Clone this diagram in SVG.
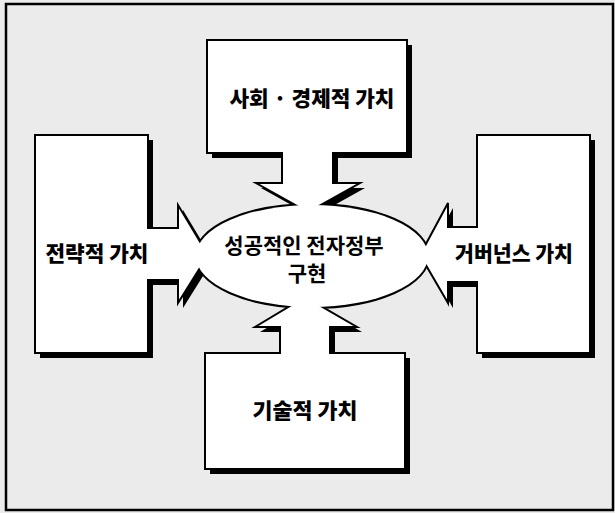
<svg xmlns="http://www.w3.org/2000/svg" width="615" height="513" viewBox="0 0 615 513">
  <defs>
    <style>
      .bg { fill: #ebebeb; }
      .frame { fill: none; stroke: #000; stroke-width: 2.5; }
      .shape { fill: #fff; stroke: #000; stroke-width: 2; stroke-linejoin: miter; }
      .shadow { fill: #000; }
      .hub { fill: #fff; stroke: #000; stroke-width: 4; }
      .hubfill { fill: #fff; stroke: none; }
      .label { font-family: "Noto Sans CJK KR", "Noto Sans", sans-serif; font-weight: 900; font-size: 21px; fill: #000; text-anchor: middle; }
      .hubtext { font-family: "Noto Sans CJK KR", "Noto Sans", sans-serif; font-weight: 700; font-size: 21px; fill: #000; text-anchor: middle; }
    </style>
  </defs>

  <rect class="bg" x="0" y="0" width="615" height="513"/>
  <rect class="frame" x="6" y="4" width="607" height="506"/>

  <g id="hub-outline">
    <ellipse class="hub" cx="312" cy="256" rx="116" ry="51"/>
  </g>

  <g id="node-social">
    <polygon class="shadow" transform="translate(5,5)" points="207,40 407,40 407,153 333,153 333,183 360,183 308,212 256,183 282,183 282,153 207,153"/>
    <polygon class="shape" points="207,40 407,40 407,153 333,153 333,183 360,183 308,212 256,183 282,183 282,153 207,153"/>
    <text class="label" x="312" y="106" textLength="165" lengthAdjust="spacingAndGlyphs">사회 · 경제적 가치</text>
  </g>

  <g id="node-strategic">
    <polygon class="shadow" transform="translate(5,5)" points="35,135 148,135 148,228 178,228 178,205 208,255 178,303 178,280 148,280 148,353 35,353"/>
    <polygon class="shape" points="35,135 148,135 148,228 178,228 178,205 208,255 178,303 178,280 148,280 148,353 35,353"/>
    <text class="label" x="97" y="261" textLength="103" lengthAdjust="spacingAndGlyphs">전략적 가치</text>
  </g>

  <g id="node-governance">
    <polygon class="shadow" transform="translate(5,5)" points="590,135 477,135 477,227 448,227 448,203 420,255 448,303 448,282 477,282 477,353 590,353"/>
    <polygon class="shape" points="590,135 477,135 477,227 448,227 448,203 420,255 448,303 448,282 477,282 477,353 590,353"/>
    <text class="label" x="514" y="261" textLength="118" lengthAdjust="spacingAndGlyphs">거버넌스 가치</text>
  </g>

  <g id="node-technical">
    <polygon class="shadow" transform="translate(5,5)" points="205,469 405,469 405,353 330,353 330,327 357,327 305,297 255,327 280,327 280,353 205,353"/>
    <polygon class="shape" points="205,469 405,469 405,353 330,353 330,327 357,327 305,297 255,327 280,327 280,353 205,353"/>
    <text class="label" x="305" y="418" textLength="105" lengthAdjust="spacingAndGlyphs">기술적 가치</text>
  </g>

  <g id="connectors"/>

  <g id="hub">
    <ellipse class="hubfill" cx="312" cy="256" rx="116" ry="51"/>
    <text class="hubtext" x="304" y="253">성공적인 전자정부</text>
    <text class="hubtext" x="307" y="281">구현</text>
  </g>
</svg>
